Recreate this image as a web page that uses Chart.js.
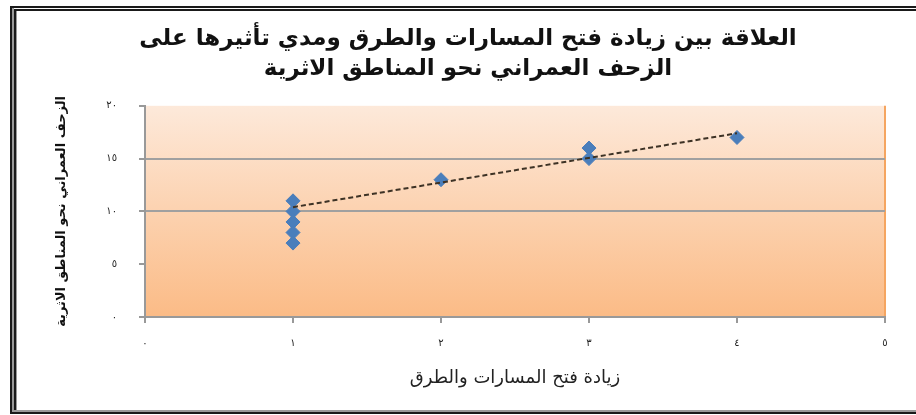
<!DOCTYPE html>
<html>
<head>
<meta charset="utf-8">
<script src="https://cdn.jsdelivr.net/npm/chart.js@4.4.1/dist/chart.umd.min.js"></script>
<style>
  body { margin: 0; background: #fff; overflow: hidden; }
  #wrap { position: relative; width: 916px; height: 415px; }
</style>
</head>
<body>
<div id="wrap">
  <canvas id="chart-grafico-1"></canvas>
</div>
<script>
const xValores = [1, 1, 1, 1, 1, 2, 3, 3, 4];
const yValores = [11, 10, 9, 8, 7, 13, 16, 15, 17];
const tendenciaX = [1, 4];
const tendenciaY = [10.4, 17.4];
const xTickLabels = ['٠', '١', '٢', '٣', '٤', '٥'];
const yTickLabels = ['٠', '٥', '١٠', '١٥', '٢٠'];
const lineasGuia = [10, 15];

const titulo = ['العلاقة بين زيادة فتح المسارات والطرق ومدي تأثيرها على', 'الزحف العمراني نحو المناطق الاثرية'];
const tituloX = 'زيادة فتح المسارات والطرق';
const tituloY = 'الزحف العمراني نحو المناطق الاثرية';

const fuente = "'DejaVu Sans', sans-serif";

const fondo = {
  id: 'fondo',
  beforeDraw(chart) {
    const { ctx, chartArea: a } = chart;
    const g = ctx.createLinearGradient(0, a.top, 0, a.bottom);
    g.addColorStop(0, '#fde9da');
    g.addColorStop(1, '#fbbb86');
    ctx.save();
    ctx.fillStyle = g;
    ctx.fillRect(a.left, a.top, a.right - a.left, a.bottom - a.top);
    ctx.strokeStyle = '#f5a560';
    ctx.lineWidth = 2;
    ctx.beginPath();
    ctx.moveTo(a.right, a.top);
    ctx.lineTo(a.right, a.bottom);
    ctx.stroke();
    ctx.restore();
  },
  afterDraw(chart) {
    // marco doble (izquierda, arriba) y linea de abajo
    const { ctx, width, height } = chart;
    ctx.save();
    ctx.fillStyle = '#1a1a1a';
    ctx.fillRect(10, 6, 2, height - 7);
    ctx.fillRect(14, 9, 2, height - 12);
    ctx.fillRect(10, 6, width - 10, 2);
    ctx.fillRect(14, 9, width - 14, 2);
    ctx.fillRect(10, height - 3, width - 10, 2);
    ctx.fillStyle = '#999';
    ctx.fillRect(12, 8, 2, height - 11);
    ctx.fillRect(16, 11, 1, height - 15);
    ctx.fillRect(14, height - 5, width - 14, 2);
    ctx.restore();
  }
};

const grafico1 = () => {
  const ctx = document.getElementById('chart-grafico-1');
  new Chart(ctx, {
    type: 'scatter',
    data: {
      datasets: [
        {
          label: 'tendencia',
          data: tendenciaX.map((x, i) => ({ x, y: tendenciaY[i] })),
          showLine: true,
          borderColor: '#3d3225',
          borderWidth: 2,
          borderDash: [5, 3],
          pointRadius: 0
        },
        {
          label: 'datos',
          data: xValores.map((x, i) => ({ x, y: yValores[i] })),
          pointStyle: 'rectRot',
          pointRadius: 7,
          backgroundColor: '#4a7ebb',
          borderColor: '#4a7ebb'
        }
      ]
    },
    options: {
      responsive: true,
      maintainAspectRatio: false,
      animation: false,
      layout: { padding: { left: 51, right: 31, top: 0, bottom: 0 } },
      plugins: {
        legend: { display: false },
        tooltip: { enabled: false },
        title: {
          display: true,
          text: titulo,
          color: '#111',
          font: { family: fuente, size: 23, weight: 'bold', lineHeight: 1.3 },
          padding: { top: 24, bottom: 22 }
        }
      },
      scales: {
        x: {
          type: 'linear', min: 0, max: 5,
          afterFit: s => { s.height = 98; },
          ticks: {
            stepSize: 1, padding: 14, color: '#222',
            font: { family: fuente, size: 10 },
            callback: (v, i) => xTickLabels[i]
          },
          grid: { display: true, drawOnChartArea: false, tickLength: 6, color: '#999', lineWidth: 2 },
          border: { color: '#999', width: 2 },
          title: {
            display: true, text: tituloX, color: '#222',
            font: { family: fuente, size: 18 },
            padding: { top: 0, bottom: 26 }
          }
        },
        y: {
          type: 'linear', min: 0, max: 20,
          afterFit: s => { s.width = 94; },
          ticks: {
            stepSize: 5, padding: 22, color: '#222',
            font: { family: fuente, size: 10 },
            callback: (v, i) => yTickLabels[i]
          },
          grid: {
            tickLength: 6,
            color: c => lineasGuia.includes(c.tick && c.tick.value) ? '#a0a0a0' : 'rgba(0,0,0,0)',
            tickColor: '#999',
            lineWidth: 2
          },
          border: { color: '#999', width: 2 },
          title: {
            display: true, text: tituloY, color: '#111',
            font: { family: fuente, size: 13, weight: 'bold' },
            padding: { top: 3, bottom: 0 }
          }
        }
      }
    },
    plugins: [fondo]
  });
};

grafico1();
</script>
</body>
</html>
